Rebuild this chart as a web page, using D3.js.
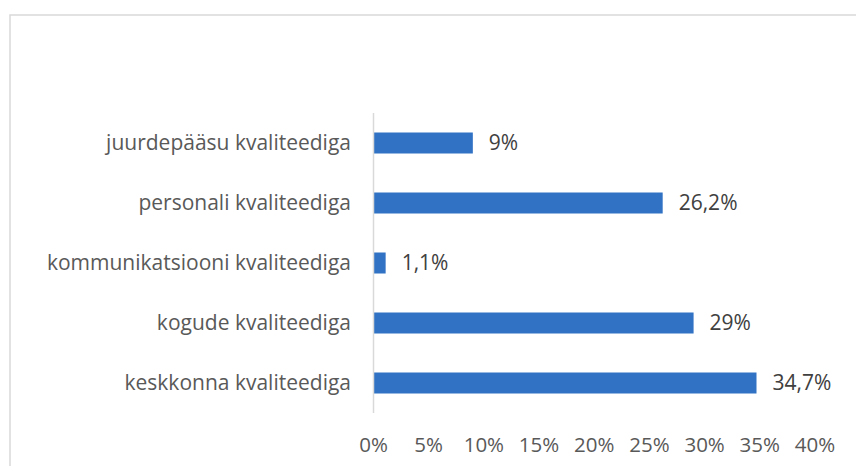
<!DOCTYPE html>
<html>
<head>
<meta charset="utf-8">
<script src="https://cdn.jsdelivr.net/npm/d3@7"></script>
<style>
  body { margin: 0; background: #fff; }
  svg text { font-family: "Open Sans", sans-serif; fill: #595959; }
</style>
</head>
<body>
<div id="chart"></div>
<script>
// data
var categories = ["juurdepääsu kvaliteediga", "personali kvaliteediga", "kommunikatsiooni kvaliteediga", "kogude kvaliteediga", "keskkonna kvaliteediga"];
var values = [9, 26.2, 1.1, 29, 34.7];
var valueLabels = ["9%", "26,2%", "1,1%", "29%", "34,7%"];
var tickValues = [0, 5, 10, 15, 20, 25, 30, 35, 40];

var width = 856, height = 466;
var margin = {top: 113, left: 373.5, right: 41, bottom: 53};
var fontSize = "21px";

var svg = d3.select("#chart").append("svg")
    .attr("width", width)
    .attr("height", height);

// outer frame (runs off the right and bottom edge)
svg.append("rect")
    .attr("x", 10).attr("y", 15)
    .attr("width", 900).attr("height", 500)
    .attr("fill", "none")
    .attr("stroke", "#d9d9d9")
    .attr("stroke-width", 1.5);

var x = d3.scaleLinear().domain([0, 40]).range([margin.left, width - margin.right]);
var y = d3.scaleBand().domain(categories).range([margin.top, height - margin.bottom]).paddingInner(0.65).paddingOuter(0.325);

svg.selectAll("rect.bar")
    .data(values)
    .join("rect")
    .attr("class", "bar")
    .attr("x", x(0))
    .attr("y", (d, i) => y(categories[i]))
    .attr("width", d => x(d) - x(0))
    .attr("height", y.bandwidth())
    .attr("fill", "#3172c4");

// vertical axis line
svg.append("line")
    .attr("x1", x(0)).attr("x2", x(0))
    .attr("y1", margin.top).attr("y2", height - margin.bottom)
    .attr("stroke", "#d9d9d9").attr("stroke-width", 1.5);

// category labels
svg.selectAll("text.cat")
    .data(categories)
    .join("text")
    .attr("class", "cat")
    .attr("x", 351)
    .attr("y", d => y(d) + y.bandwidth() / 2)
    .attr("dy", "0.35em")
    .attr("text-anchor", "end")
    .style("font-size", fontSize)
    .text(d => d);

// value labels
svg.selectAll("text.val")
    .data(values)
    .join("text")
    .attr("class", "val")
    .attr("x", d => x(d) + 16)
    .attr("y", (d, i) => y(categories[i]) + y.bandwidth() / 2)
    .attr("dy", "0.35em")
    .style("font-size", fontSize)
    .style("fill", "#404040")
    .text((d, i) => valueLabels[i]);

// x tick labels
svg.selectAll("text.tick")
    .data(tickValues)
    .join("text")
    .attr("class", "tick")
    .attr("x", d => x(d))
    .attr("y", 445)
    .attr("dy", "0.35em")
    .attr("text-anchor", "middle")
    .style("font-size", "20.5px")
    .text(d => d + "%");
</script>
</body>
</html>
